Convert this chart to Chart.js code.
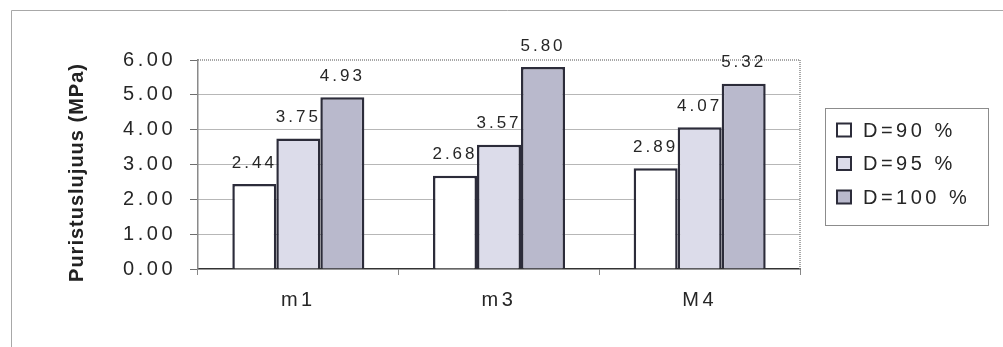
<!DOCTYPE html>
<html>
<head>
<meta charset="utf-8">
<script src="https://cdn.jsdelivr.net/npm/chart.js@4/dist/chart.umd.min.js"></script>
<style>
  html, body { margin: 0; padding: 0; background: #fff; }
  canvas { display: block; }
</style>
</head>
<body>
<canvas id="c" width="1003" height="347"></canvas>
<script>
// Compressive strength by mix and compaction degree
const categories = ['m1', 'm3', 'M4'];
const seriesNames = ['D=90 %', 'D=95 %', 'D=100 %'];
const d90 = [2.44, 2.68, 2.89];
const d95 = [3.75, 3.57, 4.07];
const d100 = [4.93, 5.80, 5.32];
const yTickLabels = ['0.00', '1.00', '2.00', '3.00', '4.00', '5.00', '6.00'];
const axisTitle = 'Puristuslujuus (MPa)';

const fills = ['#ffffff', '#dcdcea', '#b9b9cc'];
const edge = '#2c2c3a';
const textColor = '#262626';
const FONT = 'Arial, "Liberation Sans", sans-serif';

// white page with the thin outer frame
const framePlugin = {
  id: 'frame',
  beforeUpdate(chart) { chart.ctx.letterSpacing = '3.5px'; },
  beforeDraw(chart) {
    const ctx = chart.ctx;
    // axis title uses tighter letter spacing, shifted a little downward
    const y = chart.scales.y;
    if (y && !y.__titleWrapped) {
      const orig = y.drawTitle;
      y.drawTitle = function () {
        ctx.save();
        ctx.letterSpacing = '1px';
        ctx.translate(0, 8);
        orig.call(this);
        ctx.restore();
      };
      y.__titleWrapped = true;
    }
    ctx.save();
    ctx.fillStyle = '#fff';
    ctx.fillRect(0, 0, chart.width, chart.height);
    ctx.strokeStyle = '#a8a8a8';
    ctx.lineWidth = 1;
    ctx.beginPath();
    ctx.moveTo(11.5, chart.height);
    ctx.lineTo(11.5, 10.5);
    ctx.lineTo(chart.width, 10.5);
    ctx.stroke();
    ctx.restore();
  },
  beforeDatasetsDraw(chart) {
    // dotted top and right edges of the plot area
    const a = chart.chartArea, ctx = chart.ctx;
    ctx.save();
    ctx.strokeStyle = '#8a8a8a';
    ctx.lineWidth = 1.5;
    ctx.setLineDash([1, 1]);
    ctx.beginPath();
    ctx.moveTo(a.left, a.top);
    ctx.lineTo(a.right, a.top);
    ctx.lineTo(a.right, a.bottom);
    ctx.stroke();
    ctx.restore();
  }
};

// value labels above each bar
const valueLabels = {
  id: 'valueLabels',
  afterDatasetsDraw(chart) {
    const ctx = chart.ctx;
    ctx.save();
    ctx.letterSpacing = '3px';
    ctx.font = '17px ' + FONT;
    ctx.fillStyle = textColor;
    ctx.textAlign = 'center';
    ctx.textBaseline = 'middle';
    chart.data.datasets.forEach((ds, i) => {
      chart.getDatasetMeta(i).data.forEach((bar, j) => {
        ctx.fillText(ds.data[j].toFixed(2), bar.x, bar.y - 21);
      });
    });
    ctx.restore();
  }
};

// boxed legend to the right of the plot
const boxLegend = {
  id: 'boxLegend',
  afterDraw(chart) {
    const ctx = chart.ctx;
    const bx = 825, by = 108, bw = 163, bh = 117;
    ctx.save();
    ctx.strokeStyle = '#8c8c8c';
    ctx.lineWidth = 1;
    ctx.strokeRect(bx + 0.5, by + 0.5, bw, bh);
    ctx.letterSpacing = '3.5px';
    ctx.font = '20px ' + FONT;
    ctx.textBaseline = 'middle';
    ctx.textAlign = 'left';
    chart.data.datasets.forEach((ds, i) => {
      const cy = 130 + i * 33.5;
      ctx.fillStyle = ds.backgroundColor;
      ctx.fillRect(837, cy - 6.5, 14, 13);
      ctx.strokeStyle = edge;
      ctx.lineWidth = 2;
      ctx.strokeRect(837, cy - 6.5, 14, 13);
      ctx.fillStyle = textColor;
      ctx.fillText(ds.label, 863, cy + 1);
    });
    ctx.restore();
  }
};

const seriesValues = [d90, d95, d100];

new Chart(document.getElementById('c'), {
  type: 'bar',
  data: {
    labels: categories,
    datasets: seriesValues.map((vals, i) => ({
      label: seriesNames[i],
      data: vals,
      backgroundColor: fills[i],
      borderColor: edge,
      borderWidth: 2.5,
      borderSkipped: 'bottom',
      categoryPercentage: 0.658,
      barPercentage: 1.0
    }))
  },
  options: {
    responsive: false,
    animation: false,
    devicePixelRatio: 1,
    layout: { padding: { top: 60, right: 203, bottom: 0, left: 0 } },
    plugins: { legend: { display: false }, tooltip: { enabled: false } },
    scales: {
      x: {
        grid: {
          display: true,
          drawOnChartArea: false,
          tickLength: 6,
          color: '#888',
          offset: true
        },
        border: { display: true, color: '#333', width: 1.5 },
        ticks: {
          color: textColor,
          font: { family: FONT, size: 20 },
          padding: 13
        },
        afterFit(scale) { scale.height = 78; }
      },
      y: {
        min: 0,
        max: 6,
        ticks: {
          stepSize: 1,
          color: textColor,
          font: { family: FONT, size: 20 },
          padding: 14,
          callback: (v, idx) => yTickLabels[idx]
        },
        grid: {
          color: (c) => (c.tick && (c.tick.value === 6 || c.tick.value === 0)) ? 'rgba(0,0,0,0)' : '#6e6e6e',
          tickColor: '#6e6e6e',
          tickLength: 8,
          lineWidth: 1
        },
        border: { display: true, color: '#8a8a8a', width: 1.5, dash: [1, 1] },
        title: {
          display: true,
          text: axisTitle,
          color: '#222',
          font: { family: FONT, size: 20, weight: 'bold' },
          padding: { top: 65, bottom: 0 }
        },
        afterFit(scale) { scale.width = 198; }
      }
    }
  },
  plugins: [framePlugin, valueLabels, boxLegend]
});
</script>
</body>
</html>
